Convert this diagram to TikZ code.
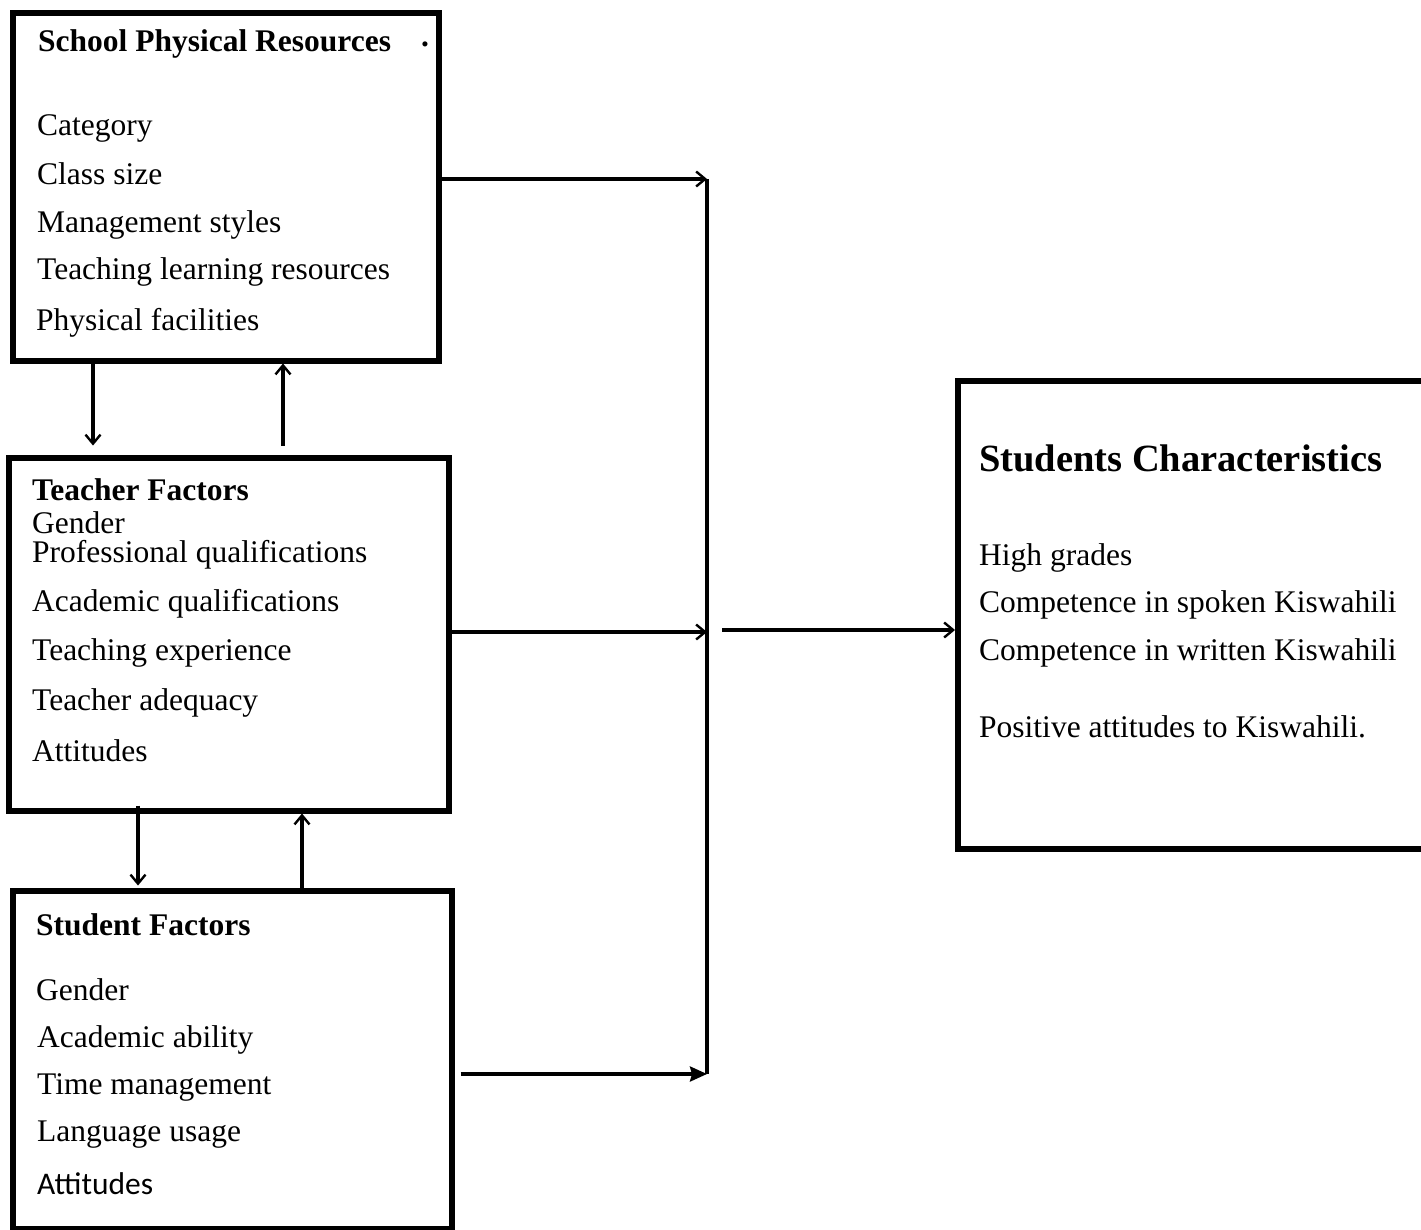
\documentclass[tikz,border=0pt]{standalone}
\usepackage{fontspec}
\setmainfont{Liberation Serif}
\newfontfamily\calibrilike{Carlito}
\usetikzlibrary{positioning, arrows.meta}
\tikzstyle{arrow} = [line width=3.2pt,-{Straight Barb[length=9pt,width=15pt,line width=2.4pt]}]
\tikzstyle{farrow} = [line width=3.2pt,-{Stealth[length=17pt,width=15pt,inset=2pt]}]

\begin{document}
\begin{tikzpicture}[x=1pt,y=-1pt]
        \tikzstyle{every node}=[font=\fontsize{31.5}{36}\selectfont]
        \tikzstyle{factorbox} = [draw=black, line width=5.5pt, rectangle, anchor=north west, inner sep=0pt]
        \tikzstyle{item} = [anchor=base west, inner sep=0pt]
        \tikzstyle{title} = [item, font=\fontsize{31.5}{36}\selectfont\bfseries]

        \useasboundingbox (0,0) rectangle (1421,1229);

        % boxes
        \node[factorbox, minimum width=426pt, minimum height=348pt](school) at (10,10) {};
        \node[factorbox, minimum width=440pt, minimum height=353pt](teacher) at (6,455) {};
        \node[factorbox, minimum width=439pt, minimum height=338pt](student) at (10,888) {};
        \node[factorbox, minimum width=480pt, minimum height=468pt](outcome) at (955,378) {};

        % school physical resources
        \node[title](s0) at (38,51) {School Physical Resources};
        \node[title](sdot) at (421,46) {.};
        \node[item](s1) at (37,135) {Category};
        \node[item](s2) at (37,184) {Class size};
        \node[item](s3) at (37,232) {Management styles};
        \node[item](s4) at (37,279) {Teaching learning resources};
        \node[item](s5) at (36,330) {Physical facilities};

        % teacher factors
        \node[title](t0) at (32,500) {Teacher Factors};
        \node[item](t1) at (32,533) {Gender};
        \node[item](t2) at (32,562) {Professional qualifications};
        \node[item](t3) at (32,611) {Academic qualifications};
        \node[item](t4) at (32,660) {Teaching experience};
        \node[item](t5) at (32,710) {Teacher adequacy};
        \node[item](t6) at (32,761) {Attitudes};

        % student factors
        \node[title](f0) at (36,935) {Student Factors};
        \node[item](f1) at (36,1000) {Gender};
        \node[item](f2) at (37,1047) {Academic ability};
        \node[item](f3) at (37,1094) {Time management};
        \node[item](f4) at (37,1141) {Language usage};
        \node[item, font=\fontsize{31.5}{36}\selectfont\calibrilike](f5) at (37,1194) {Attitudes};

        % students characteristics
        \node[item, font=\fontsize{38.5}{44}\selectfont\bfseries](c0) at (979,471) {Students Characteristics};
        \node[item](c1) at (979,565) {High grades};
        \node[item](c2) at (979,612) {Competence in spoken Kiswahili};
        \node[item](c3) at (979,660) {Competence in written Kiswahili};
        \node[item](c4) at (979,737) {Positive attitudes to Kiswahili.};

        % links between the factor boxes
        \draw[arrow] ([xshift=83pt]school.south west) -- ++(0,82);
        \draw[arrow] ([xshift=273pt,yshift=-82pt]school.south west) -- ++(0,-82);
        \draw[arrow] ([xshift=132pt,yshift=8pt]teacher.south west) -- ++(0,80);
        \draw[arrow] ([xshift=296pt,yshift=-78pt]teacher.south west) -- ++(0,-78);

        % collecting line
        \coordinate (vtop) at (707,179);
        \coordinate (vmid) at (707,632);
        \coordinate (vbot) at (707,1074);
        \coordinate (vout) at (722,630);
        \draw[line width=3.2pt] (vtop) -- (vbot);

        \draw[arrow] (school.east |- vtop) -- (vtop);
        \draw[arrow] (teacher.east |- vmid) -- (vmid);
        \draw[farrow] ([xshift=6pt]student.east |- vbot) -- (vbot);
        \draw[arrow] (vout) -- (outcome.west |- vout);
\end{tikzpicture}
\end{document}
